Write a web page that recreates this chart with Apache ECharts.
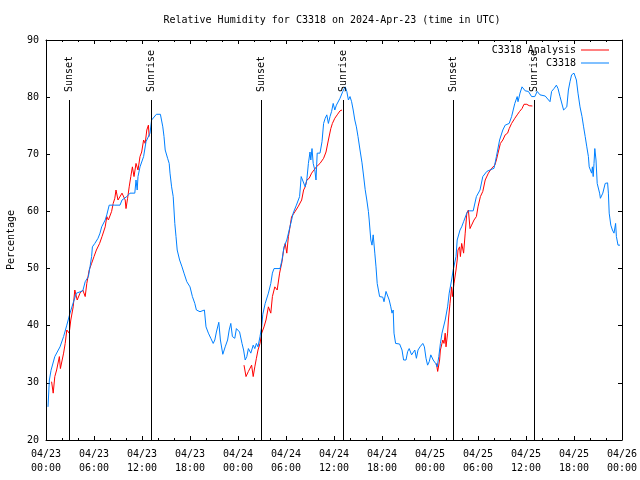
<!DOCTYPE html>
<html>
<head>
<meta charset="utf-8">
<script src="https://cdn.jsdelivr.net/npm/echarts@6/dist/echarts.min.js"></script>
<style>html,body{margin:0;padding:0;background:#fff;}#c{width:640px;height:480px;}</style>
</head>
<body>
<div id="c"></div>
<script>
const FONT = 'DejaVu Sans Mono';
const titleText = 'Relative Humidity for C3318 on 2024-Apr-23 (time in UTC)';
const yAxisName = 'Percentage';
const seriesNames = ['C3318 Analysis', 'C3318'];

// x values: hours since 2024-04-23 00:00 UTC
const xTickLabels = ['04/23\n00:00','04/23\n06:00','04/23\n12:00','04/23\n18:00','04/24\n00:00','04/24\n06:00','04/24\n12:00','04/24\n18:00','04/25\n00:00','04/25\n06:00','04/25\n12:00','04/25\n18:00','04/26\n00:00'];

const eventHours = [2.92, 13.17, 26.92, 37.17, 50.92, 61.05];
const eventNames = ['Sunset', 'Sunrise', 'Sunset', 'Sunrise', 'Sunset', 'Sunrise'];

// observations (C3318)
const obsHours = [0.25,0.42,0.63,1.1,1.75,2.2,2.6,3.0,3.4,3.8,4.0,4.6,4.9,5.3,5.5,5.7,5.8,6.1,6.5,6.75,6.96,7.4,7.6,7.9,8.6,9.25,9.5,10.1,10.5,11.1,11.25,11.4,11.5,11.75,12.2,12.5,13.0,13.2,13.4,13.8,14.3,14.6,14.75,14.9,15.2,15.4,15.5,15.7,15.9,16.0,16.1,16.25,16.4,16.7,17.0,17.25,17.6,18.0,18.3,18.6,18.8,19.25,19.8,20.0,20.3,20.6,20.9,21.1,21.3,21.6,21.8,22.1,22.4,22.7,22.9,23.1,23.3,23.6,23.8,24.2,24.5,24.7,24.9,25.1,25.3,25.6,25.9,26.1,26.3,26.5,26.75,26.96,27.1,27.4,27.8,28.1,28.3,28.5,29.25,29.5,29.75,30.1,30.4,30.7,30.9,31.3,31.7,31.9,32.1,32.4,32.6,32.8,33.0,33.1,33.25,33.4,33.6,33.75,33.9,34.25,34.5,34.7,34.9,35.1,35.3,35.5,35.7,35.9,36.1,36.3,36.75,37.1,37.4,37.6,37.8,38.0,38.2,38.4,38.6,38.8,39.0,39.25,39.5,39.7,39.9,40.1,40.3,40.4,40.6,40.75,40.9,41.1,41.25,41.4,41.7,42.1,42.25,42.5,42.7,42.9,43.1,43.25,43.4,43.5,43.7,44.2,44.5,44.7,45.0,45.2,45.4,45.7,45.9,46.1,46.3,46.5,46.75,47.1,47.3,47.5,47.7,47.9,48.1,48.4,48.7,48.9,49.1,49.3,49.5,49.9,50.2,50.4,50.7,50.9,51.25,51.4,51.75,51.96,52.2,52.6,52.8,53.4,53.8,54.25,54.6,54.75,55.1,55.5,56.0,56.3,56.7,57.1,57.4,57.9,58.2,58.6,58.9,59.0,59.25,59.5,59.7,59.9,60.3,60.5,60.7,61.1,61.4,61.75,62.4,63.0,63.2,63.5,63.8,64.0,64.25,64.5,64.7,64.9,65.1,65.3,65.5,65.7,66.0,66.3,66.5,66.75,67.0,67.2,67.4,67.6,67.8,67.9,68.1,68.2,68.3,68.4,68.5,68.6,68.75,68.9,69.2,69.3,69.6,69.9,70.2,70.3,70.4,70.6,70.8,71.0,71.2,71.3,71.5,71.75];
const obsRH = [25.8,30.5,32.2,34.6,36.3,38.1,40.1,42.2,44.0,45.7,46.0,46.1,47.7,48.6,50.3,52.1,53.8,54.4,55.3,56.2,57.3,58.5,59.4,61.1,61.1,61.1,62.0,62.6,63.2,63.2,65.5,63.75,66.1,67.8,69.6,72.2,73.7,76.0,76.3,77.0,77.0,74.8,73.1,70.75,69.3,68.4,66.7,64.3,62.6,60.25,57.9,55.6,53.25,51.5,50.3,49.2,47.7,46.8,45.1,43.9,42.75,42.45,42.75,39.8,38.7,37.8,36.9,37.5,38.9,40.6,37.5,35.0,36.3,37.5,39.25,40.4,38.1,37.8,39.5,38.9,36.9,35.75,34.0,34.6,36.0,35.2,36.6,36.0,36.9,36.3,38.1,39.8,42.0,43.9,45.7,47.4,49.2,50.0,50.0,51.5,53.8,55.0,56.75,58.5,59.7,61.1,62.6,66.1,65.8,64.3,65.5,68.4,70.4,69.0,71.0,68.4,67.25,65.5,70.2,70.2,72.2,75.4,76.3,76.9,75.4,76.6,77.5,78.9,77.75,78.6,79.8,81.0,81.8,81.0,79.5,80.1,79.2,77.75,76.0,74.8,73.1,70.75,68.5,66.2,63.8,62.0,60.0,58.5,55.0,54.1,55.9,52.7,50.3,47.4,45.1,45.0,44.2,46.0,46.0,44.5,43.3,42.2,42.75,38.7,36.9,36.8,35.75,34.0,34.0,35.45,36.0,34.9,34.9,35.75,34.3,35.75,36.3,36.9,36.3,34.3,33.1,33.7,34.9,34.0,33.4,32.8,34.6,36.9,38.7,41.0,43.3,45.7,48.0,49.75,52.1,55.0,56.75,57.3,58.2,59.7,60.1,60.1,62.6,63.75,66.1,66.4,67.0,67.25,67.55,69.6,72.5,74.25,75.1,75.4,76.6,78.9,80.1,79.2,80.7,81.8,82.1,81.1,81.0,81.0,80.1,80.1,81.0,80.4,80.2,79.2,81.0,81.5,82.1,81.5,80.1,79.8,77.75,77.5,78.3,81.25,82.7,83.9,84.2,83.0,80.7,78.3,76.6,74.8,73.1,71.3,69.6,67.8,68.1,66.7,67.8,66.1,68.4,71.0,69.0,64.9,63.2,62.3,63.2,64.9,65.0,63.2,59.7,57.6,56.75,56.2,57.9,55.6,54.1,54.1];

// analysis, three separate periods
const ana1Hours = [0.7,0.9,1.1,1.33,1.67,1.8,2.2,2.4,2.6,2.9,3.1,3.4,3.6,3.9,4.25,4.6,4.9,5.1,5.4,5.7,6.0,6.3,6.7,7.0,7.4,7.6,7.8,8.2,8.4,8.6,8.75,9.0,9.25,9.5,9.9,10.0,10.2,10.4,10.6,10.8,11.0,11.25,11.5,11.75,11.96,12.2,12.4,12.6,12.8,12.9];
const ana1RH = [30.2,28.2,31.1,32.25,34.6,32.5,35.2,36.9,39.25,38.7,41.0,43.3,46.25,44.5,45.7,46.25,45.1,47.4,49.75,50.9,52.1,53.25,54.4,55.6,57.3,59.1,58.5,60.0,61.4,62.3,63.75,62.0,62.0,63.2,62.0,60.5,62.3,64.3,66.1,67.8,66.1,68.4,67.25,69.6,70.4,72.5,71.9,74.25,75.1,73.1];
const ana2Hours = [24.75,25.0,25.3,25.7,25.9,26.1,26.3,26.5,26.75,26.96,27.25,27.5,27.8,28.1,28.3,28.6,28.9,29.2,29.5,29.7,29.9,30.1,30.3,30.5,30.7,31.0,31.25,31.5,31.96,32.2,32.4,32.6,32.9,33.2,33.5,33.8,34.25,34.7,35.0,35.3,35.6,35.8,36.1,36.4,36.75,37.0];
const ana2RH = [33.1,31.1,32.0,33.1,31.1,32.8,34.3,35.75,36.9,38.7,39.8,41.0,43.3,42.2,45.1,46.8,46.25,49.2,51.2,53.25,54.4,52.7,55.6,57.3,59.1,59.7,60.25,60.8,62.0,63.75,64.3,65.5,65.8,66.7,67.25,67.8,68.4,69.3,70.4,72.5,74.5,75.4,76.3,76.9,77.6,77.75];
const ana3Hours = [48.8,48.96,49.2,49.3,49.6,49.75,49.9,50.0,50.2,50.3,50.5,50.7,50.8,51.0,51.25,51.4,51.5,51.7,51.8,51.96,52.2,52.4,52.6,52.8,53.0,53.2,53.5,53.8,54.0,54.3,54.6,54.9,55.3,55.7,56.1,56.3,56.5,56.8,57.1,57.4,57.7,57.9,58.2,58.6,58.9,59.2,59.5,59.75,60.1,60.4,60.8];
const ana3RH = [33.4,32.0,34.0,35.75,37.5,36.9,38.7,36.3,38.7,41.0,43.9,46.8,45.1,47.4,49.75,51.5,53.25,53.8,52.1,54.4,52.7,56.2,59.7,60.25,57.0,57.6,58.5,59.1,60.8,62.6,63.5,65.5,66.7,67.55,68.1,69.0,70.2,71.9,72.5,73.4,73.7,74.5,75.4,76.3,76.9,77.5,78.0,78.75,78.75,78.5,78.45];

const zip = (xs, ys) => xs.map((x, i) => [x, ys[i]]);

const RED = '#ff0000';
const BLUE = '#0080ff';
const LINE_TOP = 79.5;   // top of sunrise/sunset lines (data units)
const LABEL_BASE = 80.9; // start of rotated label (data units)

const tickCommon = {
  axisLine: { show: true, onZero: false, lineStyle: { color: '#000', width: 1 } },
  axisTick: { show: true, inside: true, length: 4, lineStyle: { color: '#000' } },
  splitLine: { show: false }
};

function anaSeries(data) {
  return {
    name: seriesNames[0], type: 'line', data: data, showSymbol: false, symbol: 'none',
    lineStyle: { color: RED, width: 1 }, itemStyle: { color: RED }, z: 2, silent: true
  };
}

const chart = echarts.init(document.getElementById('c'), null, { renderer: 'canvas' });
chart.setOption({
  animation: false,
  backgroundColor: '#fff',
  textStyle: { fontFamily: FONT },
  title: {
    text: titleText, left: 327, top: 10, textAlign: 'center',
    textStyle: { fontSize: 10, fontWeight: 'normal', color: '#000', fontFamily: FONT }
  },
  legend: [
    { data: [seriesNames[0]], right: 31, top: 45, align: 'right', icon: 'rect', itemWidth: 28, itemHeight: 1,
      padding: 0, selectedMode: false, textStyle: { fontSize: 10, color: '#000', fontFamily: FONT } },
    { data: [seriesNames[1]], right: 31, top: 58, align: 'right', icon: 'rect', itemWidth: 28, itemHeight: 1,
      padding: 0, selectedMode: false, textStyle: { fontSize: 10, color: '#000', fontFamily: FONT } }
  ],
  grid: { left: 46, right: 18, top: 40, bottom: 40, containLabel: false, outerBoundsMode: 'none' },
  xAxis: [
    Object.assign({}, tickCommon, {
      type: 'value', min: 0, max: 72, interval: 6, position: 'bottom',
      minorTick: { show: true, splitNumber: 3, length: 2, lineStyle: { color: '#000' } },
      axisLabel: { formatter: v => xTickLabels[Math.round(v / 6)], margin: 7, color: '#000', fontSize: 10, lineHeight: 14, fontFamily: FONT }
    }),
    Object.assign({}, tickCommon, {
      type: 'value', min: 0, max: 72, interval: 6, position: 'top',
      minorTick: { show: true, splitNumber: 3, length: 2, lineStyle: { color: '#000' } },
      axisLabel: { show: false }
    })
  ],
  yAxis: [
    Object.assign({}, tickCommon, {
      type: 'value', min: 20, max: 90, interval: 10, position: 'left',
      name: yAxisName, nameLocation: 'middle', nameGap: 30,
      nameTextStyle: { fontSize: 10, color: '#000', fontFamily: FONT },
      axisLabel: { margin: 7, color: '#000', fontSize: 10, fontFamily: FONT }
    }),
    Object.assign({}, tickCommon, {
      type: 'value', min: 20, max: 90, interval: 10, position: 'right',
      axisLabel: { show: false }
    })
  ],
  series: [
    anaSeries(zip(ana1Hours, ana1RH)),
    anaSeries(zip(ana2Hours, ana2RH)),
    anaSeries(zip(ana3Hours, ana3RH)),
    {
      name: seriesNames[1], type: 'line', data: zip(obsHours, obsRH), showSymbol: false, symbol: 'none',
      lineStyle: { color: BLUE, width: 1 }, itemStyle: { color: BLUE }, z: 3, silent: true,
      markLine: {
        silent: true, symbol: ['none', 'none'], animation: false,
        lineStyle: { color: '#000', width: 1, type: 'solid' },
        label: { show: false },
        emphasis: { disabled: true },
        data: eventHours.map(h => [{ coord: [h, 20] }, { coord: [h, LINE_TOP] }])
      },
      markPoint: {
        silent: true, symbol: 'rect', symbolSize: 1, animation: false,
        itemStyle: { color: 'rgba(0,0,0,0)' },
        label: {
          show: true, position: 'inside', rotate: 90, align: 'left', verticalAlign: 'middle',
          formatter: p => p.name, color: '#000', fontSize: 10, fontFamily: FONT
        },
        data: eventHours.map((h, i) => ({ name: eventNames[i], coord: [h, LABEL_BASE] }))
      }
    }
  ]
});
</script>
</body>
</html>
